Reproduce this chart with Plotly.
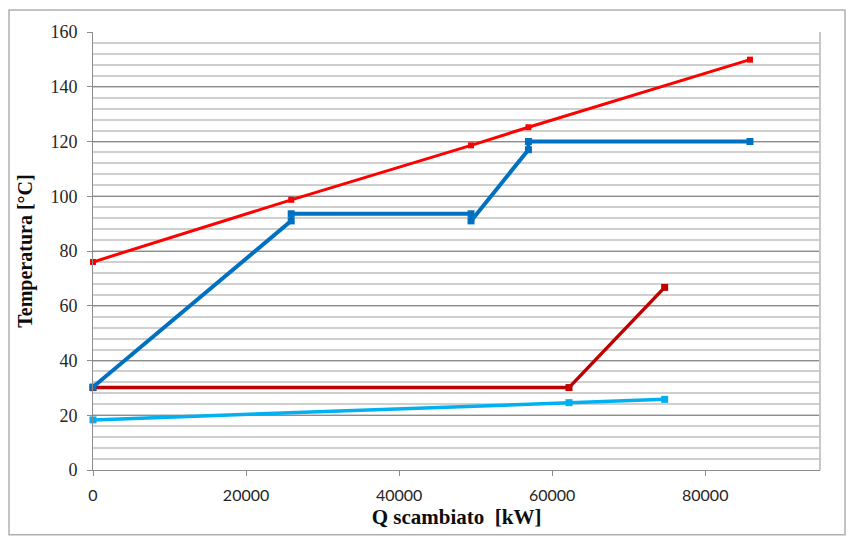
import plotly.graph_objects as go

# Heat exchanged [kW] and temperatures [°C] for each stream
hot_q = [0, 25900, 49400, 56900, 85850]
hot_t = [76.0, 98.7, 118.6, 125.2, 149.9]

steam_q = [0, 25900, 25900, 49400, 49400, 56900, 56900, 85850]
steam_t = [30.3, 91.0, 93.6, 93.6, 91.0, 117.0, 120.0, 120.0]

cond_q = [0, 62200, 74700]
cond_t = [30.1, 30.1, 66.7]

water_q = [0, 62200, 74700]
water_t = [18.3, 24.6, 25.8]

x_ticks = [0, 20000, 40000, 60000, 80000]
y_ticks = [0, 20, 40, 60, 80, 100, 120, 140, 160]

fig = go.Figure()

def add_series(q, t, color, width, msize):
    fig.add_trace(go.Scatter(
        x=q, y=t, mode="lines+markers",
        line=dict(color=color, width=width),
        marker=dict(symbol="square", size=msize, color=color),
        showlegend=False, cliponaxis=False,
    ))

add_series(water_q, water_t, "#00B0F0", 3.5, 7)
add_series(cond_q, cond_t, "#C00000", 3.5, 7)
add_series(steam_q, steam_t, "#0070C0", 4, 7)
add_series(hot_q, hot_t, "#FF0000", 3, 6)

serif = "Liberation Serif, Times New Roman, serif"

fig.update_layout(
    width=848, height=538,
    margin=dict(l=93, r=28, t=32, b=68),
    paper_bgcolor="white", plot_bgcolor="white",
    xaxis=dict(
        range=[0, 95000], tickvals=x_ticks,
        ticktext=[str(v) for v in x_ticks],
        showgrid=False, zeroline=False,
        showline=True, linecolor="#8c8c8c", linewidth=1,
        ticks="outside", ticklen=5, tickcolor="#8c8c8c",
        ticklabelstandoff=6,
        tickfont=dict(family="Lato, Liberation Sans, sans-serif", size=16, color="#262626"),
        title=dict(text="<b>Q scambiato  [kW]</b>",
                   font=dict(family=serif, size=21, color="#0d0d0d"), standoff=6),
    ),
    yaxis=dict(
        range=[0, 160], tickvals=y_ticks,
        showgrid=True, gridcolor="#8c8c8c", gridwidth=1,
        minor=dict(dtick=4, showgrid=True, gridcolor="#cfcfcf", gridwidth=1.5),
        zeroline=False,
        showline=True, linecolor="#8c8c8c", linewidth=1,
        ticks="outside", ticklen=5, tickcolor="#8c8c8c",
        ticklabelstandoff=6,
        tickfont=dict(family=serif, size=18, color="#262626"),
        title=dict(text="<b>Temperatura [°C]</b>",
                   font=dict(family=serif, size=20, color="#0d0d0d"), standoff=12),
    ),
    shapes=[
        # right edge of the plotting area
        dict(type="line", xref="paper", yref="paper", x0=1, x1=1, y0=0, y1=1,
             line=dict(color="#c8c8c8", width=2)),
        # chart frame
        dict(type="rect", xref="paper", yref="paper",
             x0=-0.1155, x1=1.0344, y0=-0.148, y1=1.050,
             line=dict(color="#b0b0b0", width=1.5), layer="below"),
    ],
)

fig.write_html("out.html")
